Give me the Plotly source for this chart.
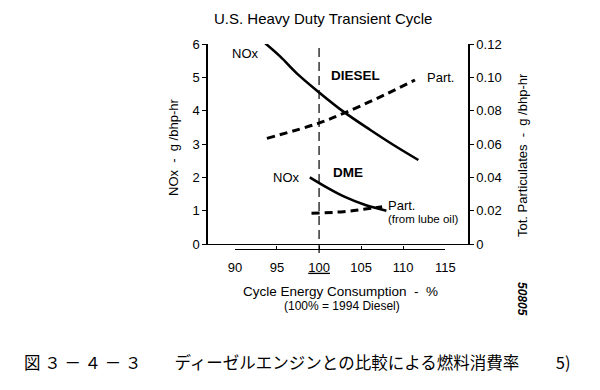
import plotly.graph_objects as go

# ---------------- data ----------------
diesel_nox_x = [93.6, 95.4, 97.35, 99.9, 102.9, 106.1, 108.85, 111.8]
diesel_nox_y = [6.02, 5.62, 5.12, 4.57, 3.97, 3.42, 2.97, 2.52]

diesel_part_x = [93.8, 99.9, 102.9, 106.9, 111.4]
diesel_part_y = [0.0634, 0.0724, 0.0784, 0.0874, 0.0984]

dme_nox_x = [98.9, 100.9, 103.0, 105.5, 108.0]
dme_nox_y = [2.00, 1.70, 1.42, 1.17, 1.00]

dme_part_x = [99.1, 102.9, 105.3, 107.5]
dme_part_y = [0.0184, 0.0194, 0.0208, 0.0224]

ref_x = 100  # 100% = 1994 Diesel

x_tickvals = [90, 95, 100, 105, 110, 115]
x_ticktext = ["90", "95", "<u>100</u>", "105", "110", "115"]
nox_tickvals = [0, 1, 2, 3, 4, 5, 6]
nox_ticktext = ["0", "1", "2", "3", "4", "5", "6"]
part_tickvals = [0, 0.02, 0.04, 0.06, 0.08, 0.10, 0.12]
part_ticktext = ["0", "0.02", "0.04", "0.06", "0.08", "0.10", "0.12"]

X_RANGE = [86.8, 117.7]
NOX_RANGE = [0, 6]
PART_RANGE = [0, 0.12]

# ---------------- layout geometry ----------------
W, H = 600, 390
L, R, T, B = 208, 132, 44, 141
PW, PH = W - L - R, H - T - B
FONT = "Liberation Sans, Arial, sans-serif"


def px(xp):
    return (xp - L) / PW


def py(yp):
    return (H - B - yp) / PH


frame_bottom = py(244)
x2_domain = [(x_tickvals[0] - X_RANGE[0]) / (X_RANGE[1] - X_RANGE[0]),
             (x_tickvals[-1] - X_RANGE[0]) / (X_RANGE[1] - X_RANGE[0])]

fig = go.Figure()
# carrier trace for the separate energy-consumption axis (drawn first)
fig.add_trace(go.Scatter(x=[x_tickvals[0], x_tickvals[-1]], y=[None, None],
                         mode="lines", xaxis="x2", yaxis="y", hoverinfo="skip"))
fig.add_trace(go.Scatter(x=diesel_nox_x, y=diesel_nox_y, mode="lines",
                         line=dict(color="black", width=2.6, shape="spline"),
                         yaxis="y", hoverinfo="skip"))
fig.add_trace(go.Scatter(x=diesel_part_x, y=diesel_part_y, mode="lines",
                         line=dict(color="black", width=3, dash="8px,5px", shape="spline"),
                         yaxis="y2", hoverinfo="skip"))
fig.add_trace(go.Scatter(x=dme_nox_x, y=dme_nox_y, mode="lines",
                         line=dict(color="black", width=2.6, shape="spline"),
                         yaxis="y", hoverinfo="skip"))
fig.add_trace(go.Scatter(x=dme_part_x, y=dme_part_y, mode="lines",
                         line=dict(color="black", width=3, dash="8px,5px", shape="spline"),
                         yaxis="y2", hoverinfo="skip"))

axis_font = dict(family=FONT, size=13, color="black")

fig.update_layout(
    width=W, height=H,
    margin=dict(l=L, r=R, t=T, b=B, pad=0),
    paper_bgcolor="white", plot_bgcolor="rgba(0,0,0,0)",
    showlegend=False,
    xaxis=dict(range=X_RANGE, showline=True, linecolor="black", linewidth=1.3,
               showticklabels=False, ticks="", showgrid=False, zeroline=False,
               anchor="y"),
    xaxis2=dict(domain=x2_domain, range=[x_tickvals[0], x_tickvals[-1]],
                anchor="free", position=0, showline=True, linecolor="black",
                linewidth=1.3, ticks="inside", ticklen=3, tickwidth=1,
                tickcolor="black", tickvals=x_tickvals, ticktext=x_ticktext,
                tickfont=axis_font, ticklabelstandoff=6,
                showgrid=False, zeroline=False),
    yaxis=dict(domain=[frame_bottom, 1], range=NOX_RANGE, showline=True,
               linecolor="black", linewidth=1.5, ticks="outside", ticklen=4,
               tickwidth=1, tickcolor="black", tickvals=nox_tickvals,
               ticktext=nox_ticktext, tickfont=axis_font, showgrid=False,
               zeroline=False, anchor="x"),
    yaxis2=dict(domain=[frame_bottom, 1], range=PART_RANGE, overlaying="y",
                side="right", showline=True, linecolor="black", linewidth=1.5,
                ticks="outside", ticklen=4, tickwidth=1, tickcolor="black",
                tickvals=part_tickvals, ticktext=part_ticktext,
                tickfont=axis_font, showgrid=False, zeroline=False, anchor="x"),
)

fig.add_shape(type="line", xref="x", yref="paper", x0=ref_x, x1=ref_x,
              y0=py(253), y1=1, line=dict(color="black", width=1.2, dash="9px,5px"))


def ann(text, x, y, size=13, xref="paper", yref="paper", angle=0, xanchor="center",
        family=FONT, **kw):
    fig.add_annotation(text=text, x=x, y=y, xref=xref, yref=yref, showarrow=False,
                       textangle=angle, xanchor=xanchor, yanchor="middle",
                       font=dict(family=family, size=size, color="black"), **kw)


# titles
ann("U.S. Heavy Duty Transient Cycle", px(323), py(19), size=15)
ann("NOx  -  g /bhp-hr", px(173), py(148), size=13, angle=-90)
ann("Tot. Particulates  -  g /bhp-hr", px(522), py(155), size=13, angle=-90)
ann("Cycle Energy Consumption  -  %", px(340), py(291), size=13.5)
ann("(100% = 1994 Diesel)", px(342), py(306), size=12)
ann("<b><i>50805</i></b>", px(522), py(299), size=12, angle=90)

# curve labels (data coordinates)
ann("NOx", 91.2, 5.73, xref="x", yref="y")
ann("<b>DIESEL</b>", 104.3, 5.07, xref="x", yref="y", size=13.5)
ann("Part.", 114.4, 5.01, xref="x", yref="y")
ann("NOx", 96.1, 2.01, xref="x", yref="y")
ann("<b>DME</b>", 103.45, 2.16, xref="x", yref="y", size=13.5)
ann("Part.", 109.8, 1.17, xref="x", yref="y")
ann("(from lube oil)", 112.4, 0.75, xref="x", yref="y", size=11.5)

# caption
ann("図 ３ － ４ － ３　　ディーゼルエンジンとの比較による燃料消費率　　 5)",
    px(22), py(362), size=16.5, xanchor="left", family="Noto Sans CJK JP")

fig.write_html("out.html", post_script="document.body.style.margin='0';",
               config={"displayModeBar": False})
